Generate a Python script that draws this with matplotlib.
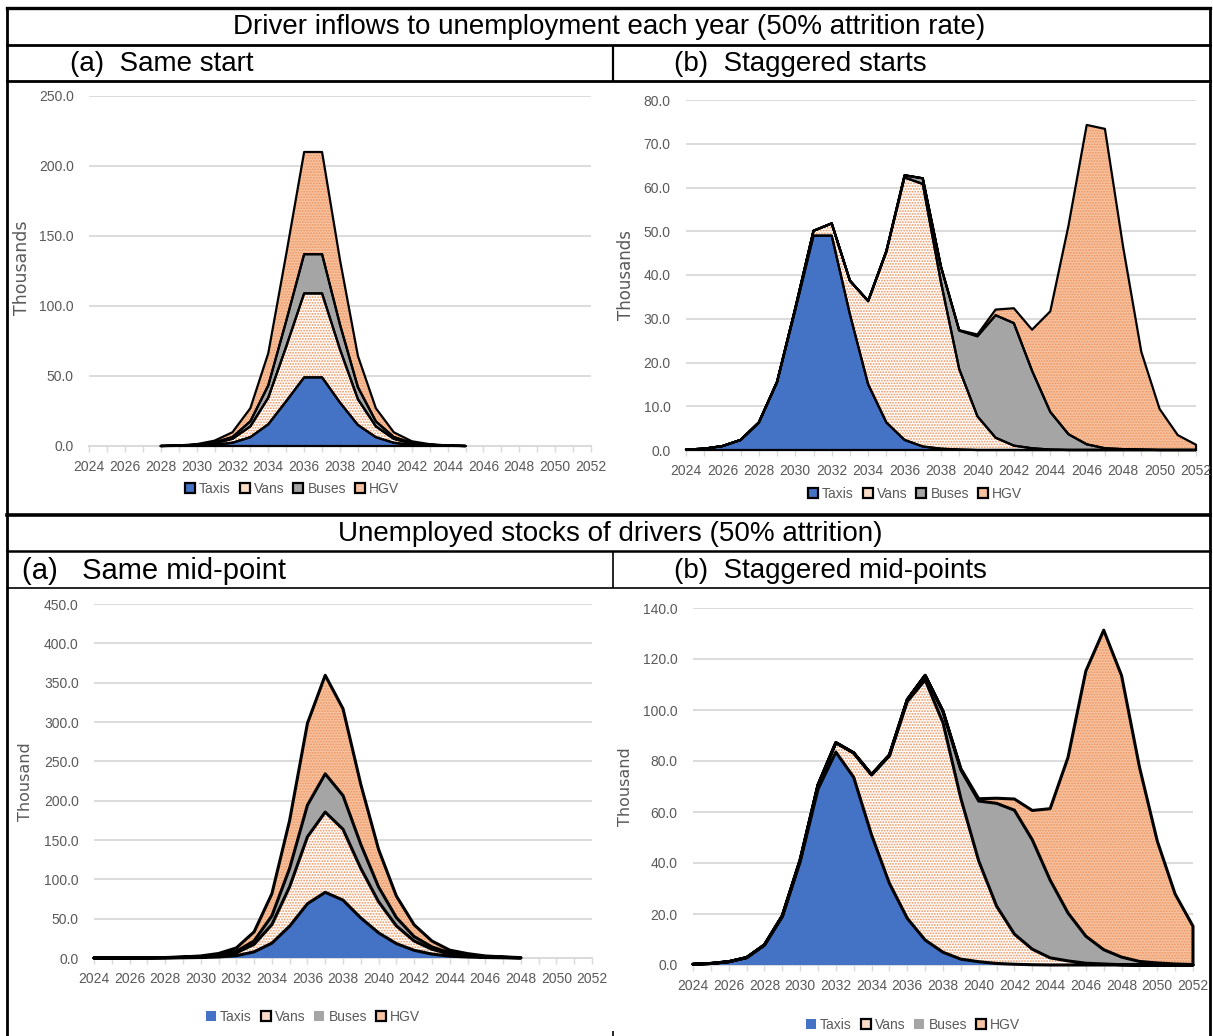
import numpy as np
import matplotlib
matplotlib.use("Agg")
import matplotlib.pyplot as plt
from matplotlib.patches import Patch
from matplotlib.ticker import FormatStrFormatter

nan = np.nan

years = list(range(2024, 2053))
label_years = list(range(2024, 2053, 2))
names = ['Taxis', 'Vans', 'Buses', 'HGV']

# ---- inflows to unemployment, (a) same start  (thousands) ----
taxi_in_a = [nan, nan, nan, nan, 0.0, 0.1, 0.3, 0.9, 2.3, 6.3, 15.5, 32.0, 49.0, 49.0, 31.0,
             15.0, 6.3, 2.3, 0.8, 0.3, 0.1, 0.0, nan, nan, nan, nan, nan, nan, nan]
vans_in_a = [nan, nan, nan, nan, 0.0, 0.1, 0.4, 1.1, 2.8, 7.7, 19.0, 39.0, 60.0, 60.0, 38.0,
             18.4, 7.7, 2.8, 1.0, 0.4, 0.1, 0.0, nan, nan, nan, nan, nan, nan, nan]
buses_in_a = [nan, nan, nan, nan, 0.0, 0.1, 0.2, 0.5, 1.3, 3.6, 8.8, 18.3, 28.0, 28.0, 17.7,
              8.6, 3.6, 1.3, 0.4, 0.2, 0.1, 0.0, nan, nan, nan, nan, nan, nan, nan]
hgv_in_a = [nan, nan, nan, nan, 0.0, 0.1, 0.4, 1.3, 3.4, 9.4, 23.0, 47.7, 73.0, 73.0, 46.2,
            22.3, 9.4, 3.4, 1.2, 0.4, 0.1, 0.0, nan, nan, nan, nan, nan, nan, nan]

# ---- inflows, (b) staggered starts ----
taxi_in_b = [0.1, 0.3, 0.9, 2.3, 6.3, 15.5, 32.0, 49.0, 49.0, 31.0, 15.0, 6.3, 2.3, 0.8, 0.3,
             0.1, 0, 0, 0, 0, 0, 0, 0, 0, 0, 0, 0, 0, 0]
vans_in_b = [0, 0, 0, 0, 0, 0.1, 0.4, 1.1, 2.8, 7.7, 19.0, 39.0, 60.0, 60.0, 38.0,
             18.4, 7.7, 2.8, 1.0, 0.4, 0.1, 0, 0, 0, 0, 0, 0, 0, 0]
buses_in_b = [0, 0, 0, 0, 0, 0, 0, 0, 0, 0, 0.1, 0.2, 0.5, 1.3, 3.6,
              8.8, 18.3, 28.0, 28.0, 17.7, 8.6, 3.6, 1.3, 0.4, 0.2, 0.1, 0, 0, 0]
hgv_in_b = [0, 0, 0, 0, 0, 0, 0, 0, 0, 0, 0, 0, 0, 0, 0,
            0.1, 0.4, 1.3, 3.4, 9.4, 23.0, 47.7, 73.0, 73.0, 46.2, 22.3, 9.4, 3.4, 1.2]

# ---- unemployed stocks, (a) same mid-point ----
taxi_st_a = [0.0, 0.0, 0.1, 0.1, 0.2, 0.3, 0.6, 1.3, 2.9, 7.8, 18.9, 40.5, 69.0, 83.5, 73.6,
             51.0, 32.0, 18.3, 9.8, 5.0, 2.3, 1.3, 0.6, 0.3, 0.1, nan, nan, nan, nan]
vans_st_a = [0.0, 0.0, 0.0, 0.0, 0.1, 0.4, 0.7, 1.6, 3.7, 9.5, 23.5, 50.0, 85.0, 102.0, 90.0,
             63.0, 39.5, 22.5, 11.8, 6.1, 2.8, 1.6, 0.7, 0.4, 0.1, nan, nan, nan, nan]
buses_st_a = [0.0, 0.0, 0.0, 0.0, 0.1, 0.2, 0.4, 0.8, 1.8, 4.4, 11.2, 23.5, 40.3, 48.6, 42.9,
              30.5, 18.8, 10.6, 5.6, 3.0, 1.4, 0.8, 0.4, 0.2, 0.1, nan, nan, nan, nan]
hgv_st_a = [0.0, 0.0, 0.0, 0.0, 0.2, 0.5, 0.9, 2.0, 4.4, 11.5, 28.0, 61.0, 104.0, 125.3, 110.4,
            76.3, 47.8, 27.4, 15.0, 7.5, 3.5, 1.9, 0.9, 0.5, 0.2, nan, nan, nan, nan]

# ---- unemployed stocks, (b) staggered mid-points ----
taxi_st_b = [0.3, 0.6, 1.3, 2.9, 7.8, 18.9, 40.5, 69.0, 83.5, 73.6, 51.0, 32.0, 18.3, 9.8, 5.0,
             2.3, 1.3, 0.6, 0.3, 0.1, 0, 0, 0, 0, 0, 0, 0, 0, 0]
vans_st_b = [0.0, 0.0, 0.0, 0.0, 0.1, 0.4, 0.7, 1.6, 3.7, 9.5, 23.5, 50.0, 85.0, 102.0, 90.0,
             63.0, 39.5, 22.5, 11.8, 6.1, 2.8, 1.6, 0.7, 0.4, 0.1, 0, 0, 0, 0]
buses_st_b = [0, 0, 0, 0, 0, 0, 0, 0, 0, 0.1, 0.2, 0.4, 0.8, 1.8, 4.4,
              11.2, 23.5, 40.3, 48.6, 42.9, 30.5, 18.8, 10.6, 5.6, 3.0, 1.4, 0.8, 0.4, 0.2]
hgv_st_b = [0, 0, 0, 0, 0, 0, 0, 0, 0, 0, 0, 0, 0, 0, 0.2,
            0.5, 0.9, 2.0, 4.4, 11.5, 28.0, 61.0, 104.0, 125.3, 110.4, 76.3, 47.8, 27.4, 15.0]

W, H = 1213, 1036
BLUE = '#4472C4'
GREY = '#A5A5A5'
VAN_DOTS = '#F0915A'
HGV_FACE = '#F7C2A0'
HGV_DOTS = '#ED9560'
GRID = '#D9D9D9'
TXT = '#595959'
TICKFONT = 'Liberation Sans'
HEADFONT = 'Liberation Sans'
HEADSIZE = 20

plt.rcParams['hatch.linewidth'] = 0.9

fig = plt.figure(figsize=(W / 100, H / 100), dpi=100)

# table frame drawn in pixel coordinates
frame = fig.add_axes([0, 0, 1, 1], zorder=0)
frame.set_xlim(0, W)
frame.set_ylim(H, 0)
frame.axis('off')


def hline(y, x0, x1, lw):
    frame.plot([x0, x1], [y, y], color='black', lw=lw, solid_capstyle='projecting')


def vline(x, y0, y1, lw):
    frame.plot([x, x], [y0, y1], color='black', lw=lw, solid_capstyle='butt')


hline(8, 7, 1210, 2.4)
hline(45, 7, 1210, 2.0)
hline(81, 7, 1210, 2.0)
hline(515, 7, 1210, 2.6)
hline(551, 7, 1210, 1.8)
hline(588, 7, 1210, 1.2)
vline(7, 8, H, 2.0)
vline(1210, 8, H, 2.0)
vline(613, 45, 81, 1.6)
vline(613, 551, 588, 1.2)
vline(613, 1031, H, 1.2)

frame.text(609, 27, 'Driver inflows to unemployment each year (50% attrition rate)',
           ha='center', va='center', fontsize=HEADSIZE, family=HEADFONT)
frame.text(70, 64, '(a)  Same start', ha='left', va='center', fontsize=HEADSIZE, family=HEADFONT)
frame.text(674, 64, '(b)  Staggered starts', ha='left', va='center', fontsize=HEADSIZE, family=HEADFONT)
frame.text(610, 534, 'Unemployed stocks of drivers (50% attrition)',
           ha='center', va='center', fontsize=HEADSIZE, family=HEADFONT)
frame.text(22, 571, '(a)   Same mid-point', ha='left', va='center', fontsize=21, family=HEADFONT)
frame.text(674, 571, '(b)  Staggered mid-points', ha='left', va='center', fontsize=HEADSIZE, family=HEADFONT)

fills = [
    dict(face=BLUE, dots=None),
    dict(face='white', dots=VAN_DOTS),
    dict(face=GREY, dots=None),
    dict(face=HGV_FACE, dots=HGV_DOTS),
]
legend_faces = [BLUE, '#FBDCC6', GREY, HGV_FACE]


def panel(box, series, ymax, ystep, edged, lw, ylabel, ylab_xy, ylab_size, legend_xy):
    l, t, r, b = box
    ax = fig.add_axes([l / W, 1 - b / H, (r - l) / W, (b - t) / H], zorder=2)
    ax.set_facecolor('none')
    x = np.array(years, dtype=float)
    stack = np.cumsum(np.array(series, dtype=float), axis=0)
    start = np.where(np.isnan(stack[0]), nan, 0.0)

    lower = start
    for top, st in zip(stack, fills):
        ax.fill_between(x, lower, top, facecolor=st['face'], linewidth=0, zorder=2)
        if st['dots']:
            ax.fill_between(x, lower, top, facecolor='none', edgecolor=st['dots'],
                            hatch='......', linewidth=0, zorder=2.1)
        lower = top
    lower = start
    for top, e in zip(stack, edged):
        if e:
            ax.fill_between(x, lower, top, facecolor='none', edgecolor='black',
                            linewidth=lw, zorder=3, clip_on=False)
        lower = top

    yt = np.arange(0, ymax + ystep / 2, ystep)
    for yv in yt[1:]:
        ax.axhline(yv, color=GRID, lw=1.3, zorder=1)
    ax.set_xlim(years[0], years[-1])
    ax.set_ylim(0, ymax)
    ax.set_yticks(yt)
    ax.yaxis.set_major_formatter(FormatStrFormatter('%.1f'))
    ax.set_xticks(label_years)
    ax.set_xticklabels([str(v) for v in label_years])
    ax.set_xticks(years, minor=True)
    for s in ['top', 'right', 'left']:
        ax.spines[s].set_visible(False)
    ax.spines['bottom'].set_color(GRID)
    ax.spines['bottom'].set_linewidth(1.4)
    ax.spines['bottom'].set_zorder(1.5)
    ax.tick_params(axis='x', which='both', length=4, width=1, color=GRID, pad=6,
                   labelsize=10, labelcolor=TXT)
    ax.tick_params(axis='y', length=0, pad=11, labelsize=10, labelcolor=TXT)
    for lab in ax.get_xticklabels() + ax.get_yticklabels():
        lab.set_family(TICKFONT)

    frame.text(ylab_xy[0], ylab_xy[1], ylabel, rotation=90, ha='center', va='center',
               fontsize=ylab_size, color=TXT, family='DejaVu Sans')

    handles = []
    for face, e in zip(legend_faces, edged):
        handles.append(Patch(facecolor=face, edgecolor='black' if e else face,
                             linewidth=1.6 if e else 0))
    fig.legend(handles, names, loc='center', bbox_to_anchor=(legend_xy[0] / W, 1 - legend_xy[1] / H),
               ncol=4, frameon=False, handlelength=0.72, handleheight=0.72, handletextpad=0.3,
               columnspacing=0.65, borderaxespad=0, borderpad=0,
               prop={'family': TICKFONT, 'size': 10}, labelcolor=TXT)
    return ax


panel((89, 96, 591, 446), [taxi_in_a, vans_in_a, buses_in_a, hgv_in_a], 250, 50,
      [True, True, True, True], 1.6, 'Thousands', (22, 268), 12.5, (292, 489))
panel((686, 100, 1196, 450), [taxi_in_b, vans_in_b, buses_in_b, hgv_in_b], 80, 10,
      [True, True, True, True], 1.6, 'Thousands', (626, 275), 12, (915, 494))
panel((94, 604, 592, 958), [taxi_st_a, vans_st_a, buses_st_a, hgv_st_a], 450, 50,
      [False, True, False, True], 2.2, 'Thousand', (26, 782), 11.5, (313, 1017))
panel((693, 608, 1193, 965), [taxi_st_b, vans_st_b, buses_st_b, hgv_st_b], 140, 20,
      [False, True, False, True], 2.2, 'Thousand', (625, 787), 11.5, (913, 1025))

fig.savefig('out.png', dpi=100)
